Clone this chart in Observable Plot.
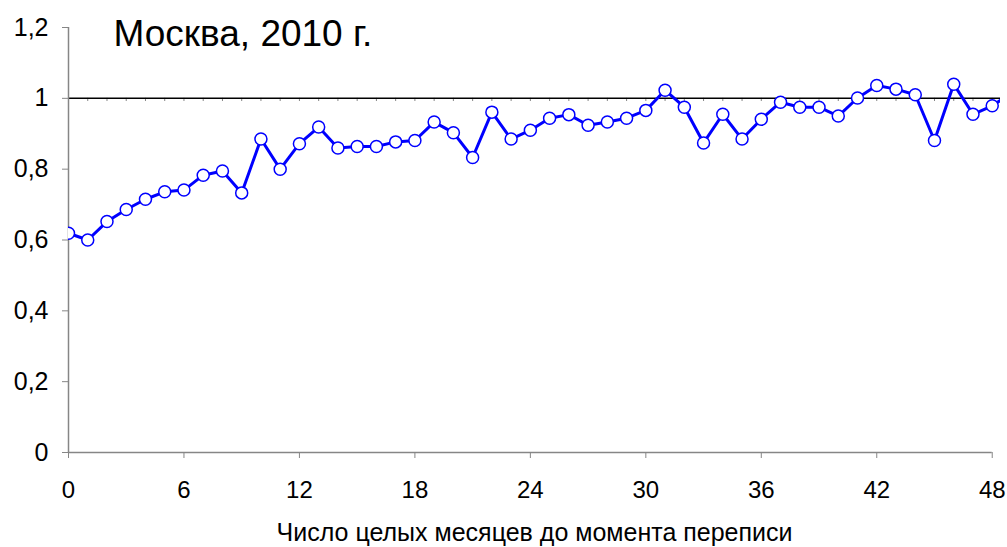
<!DOCTYPE html>
<html>
<head>
<meta charset="utf-8">
<script src="https://cdn.jsdelivr.net/npm/d3@7"></script>
<script src="https://cdn.jsdelivr.net/npm/@observablehq/plot@0.6"></script>
<style>
  html, body { margin: 0; padding: 0; background: #fff; }
  #chart svg { display: block; }
</style>
</head>
<body>
<div id="chart"></div>
<script>
const titleText = "Москва, 2010 г.";
const xLabel = "Число целых месяцев до момента переписи";
const months = d3.range(0, 50);
const values = [
  0.619, 0.600, 0.652, 0.686, 0.715, 0.736, 0.741, 0.783, 0.795, 0.733,
  0.885, 0.800, 0.872, 0.919, 0.860, 0.864, 0.864, 0.877, 0.881, 0.933,
  0.903, 0.833, 0.961, 0.885, 0.910, 0.944, 0.954, 0.924, 0.933, 0.944,
  0.966, 1.023, 0.975, 0.874, 0.955, 0.885, 0.941, 0.989, 0.975, 0.975,
  0.950, 1.001, 1.036, 1.026, 1.010, 0.881, 1.040, 0.955, 0.979, 1.015
];
const xTicks = [0, 6, 12, 18, 24, 30, 36, 42, 48];
const yTicks = [0, 0.2, 0.4, 0.6, 0.8, 1, 1.2];
const referenceLevel = [1];

const data = months.map((m, i) => ({month: m, value: values[i]}));
const fmt = v => String(v).replace(".", ",");
const axisGray = "#868686";
const font = "'Liberation Sans', Arial, sans-serif";

const chart = Plot.plot({
  width: 1007,
  height: 547,
  marginLeft: 68,
  marginRight: 7,
  marginTop: 27,
  marginBottom: 95,
  style: {fontFamily: font, background: "#fff", color: "#000"},
  x: {domain: [0, 48.43], axis: null},
  y: {domain: [0, 1.2], axis: null},
  marks: [
    Plot.ruleX(months.slice(0, 49), {x: d => d, y1: 1, y2: 0.991, stroke: axisGray, strokeWidth: 1}),
    Plot.ruleY(referenceLevel, {y: d => d, stroke: "#000", strokeWidth: 1.5}),
    Plot.ruleX([0], {y1: 0, y2: 1.2, stroke: axisGray, strokeWidth: 1.5}),
    Plot.ruleY([0], {x1: 0, x2: 48, stroke: axisGray, strokeWidth: 1.5}),
    Plot.axisY({ticks: yTicks, tickFormat: fmt, tickSize: 6, tickPadding: 14, fontSize: 25, stroke: axisGray, color: "#000", label: null}),
    Plot.axisX({ticks: xTicks, tickFormat: d => String(d), tickSize: 6, tickPadding: 22, fontSize: 24, stroke: axisGray, label: null}),
    Plot.line(data, {x: "month", y: "value", stroke: "#0000ff", strokeWidth: 3, clip: true}),
    Plot.dot(data, {x: "month", y: "value", r: 6, fill: "#fff", stroke: "#0000ff", strokeWidth: 1.5, clip: true}),
    Plot.text([titleText], {text: d => d, frameAnchor: "top-left", textAnchor: "start", lineAnchor: "top", dx: 45, dy: -8, fontSize: 37, fill: "#000"}),
    Plot.text([xLabel], {text: d => d, frameAnchor: "bottom", textAnchor: "middle", lineAnchor: "middle", dx: 0, dy: 80, fontSize: 25, fill: "#000"})
  ]
});
document.getElementById("chart").appendChild(chart);
</script>
</body>
</html>
